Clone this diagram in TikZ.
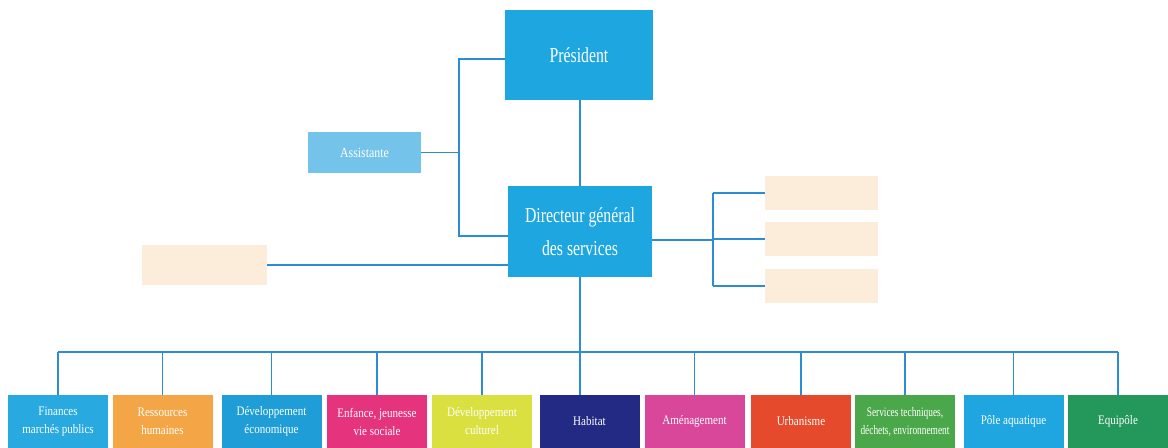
\documentclass[tikz,border=0pt]{standalone}
\usepackage{fontspec}
\setmainfont{Liberation Serif}
\newfontfamily\condA[FakeStretch=0.74]{Liberation Serif}
\newfontfamily\condB[FakeStretch=0.85]{Liberation Serif}
\newfontfamily\condC[FakeStretch=0.72]{Liberation Serif}
\definecolor{linec}{HTML}{2D8DD4}
\definecolor{topblue}{HTML}{1DA6DF}
\definecolor{assist}{HTML}{74C3EA}
\definecolor{fadeor}{HTML}{FCEDDB}
\definecolor{cFin}{HTML}{28A9E0}
\definecolor{cRes}{HTML}{F4A647}
\definecolor{cEco}{HTML}{1E9DD6}
\definecolor{cEnf}{HTML}{E5337D}
\definecolor{cCul}{HTML}{D9E03F}
\definecolor{cHab}{HTML}{232A84}
\definecolor{cAme}{HTML}{D8479A}
\definecolor{cUrb}{HTML}{E54A2C}
\definecolor{cSer}{HTML}{4BA84A}
\definecolor{cPol}{HTML}{1FA6E0}
\definecolor{cEqu}{HTML}{23985A}
\tikzset{
  conn/.style={draw=linec, line width=1.05pt},
  topbox/.style={fill=topblue, text=white, inner sep=0pt, align=center,
    font=\condA\fontsize{16}{24.75}\selectfont},
  assistbox/.style={fill=assist, text=white, inner sep=0pt, align=center,
    font=\condB\fontsize{10.5}{12}\selectfont},
  faded/.style={fill=fadeor, inner sep=0pt},
  unit/.style={text=white, inner sep=0pt, align=center, minimum width=75pt,
    minimum height=39.75pt, font=\condB\fontsize{9.75}{13.5}\selectfont},
}
\begin{document}
\begin{tikzpicture}[x=0.75pt, y=-0.75pt]
\useasboundingbox (0,0) rectangle (1168,448);
\fill[white] (0,0) rectangle (1168,448);

% top boxes
\node[topbox, minimum width=111pt, minimum height=67.5pt] (P) at (579,55) {Président};
\node[topbox, minimum width=108pt, minimum height=68.25pt] (DG) at (580,231.5) {Directeur général\\des services};
\node[assistbox, minimum width=84.75pt, minimum height=30.75pt] (A) at (364.5,152.5) {Assistante};

% faded boxes
\node[faded, minimum width=93.75pt, minimum height=30pt] (L) at (204.5,265) {};
\node[faded, minimum width=84.75pt, minimum height=26pt] (R1) at (821.5,193) {};
\node[faded, minimum width=84.75pt, minimum height=26pt] (R2) at (821.5,239) {};
\node[faded, minimum width=84.75pt, minimum height=26pt] (R3) at (821.5,286) {};

% bottom units
\node[unit, fill=cFin] (U1) at (58,421.5) {Finances\\marchés publics};
\node[unit, fill=cRes] (U2) at (162.5,421.5) {Ressources\\humaines};
\node[unit, fill=cEco] (U3) at (271.5,421.5) {Développement\\économique};
\node[unit, fill=cEnf] (U4) at (377,421.5) {Enfance, jeunesse\\vie sociale};
\node[unit, fill=cCul] (U5) at (482,421.5) {Développement\\culturel};
\node[unit, fill=cHab] (U6) at (589.5,421.5) {Habitat};
\node[unit, fill=cAme] (U7) at (694.5,421.5) {Aménagement};
\node[unit, fill=cUrb] (U8) at (801,421.5) {Urbanisme};
\node[unit, fill=cSer, font=\condC\fontsize{9.75}{13.5}\selectfont] (U9) at (905,421.5) {Services techniques,\\déchets, environnement};
\node[unit, fill=cPol] (U10) at (1013.5,421.5) {Pôle aquatique};
\node[unit, fill=cEqu] (U11) at (1118,421.5) {Equipôle};

% coordinates
\coordinate (bTop) at (459,59);
\coordinate (bBot) at (459,236);
\coordinate (rV) at (713,240);
\coordinate (bus) at (580,352);

% bracket President / Assistante / DG
\draw[conn] (P.west |- bTop) -- (bTop) -- (bBot) -- (DG.west |- bBot);
\draw[conn] (A.east) -- (A.east -| bTop);
% President to DG
\draw[conn] (P.south -| DG.north) -- (DG.north);
% left faded
\draw[conn] (L.east) -- (L.east -| DG.west);
% right bracket
\draw[conn] (DG.east |- rV) -- (rV);
\draw[conn] (R1.west -| rV) -- (R3.west -| rV);
\draw[conn] (R1.west -| rV) -- (R1.west);
\draw[conn] (R2.west -| rV) -- (R2.west);
\draw[conn] (R3.west -| rV) -- (R3.west);
% bus
\draw[conn] (DG.south) -- (bus);
\draw[conn] (U1.north |- bus) -- (U11.north |- bus);
\foreach \u in {U1,U2,U3,U4,U5,U7,U8,U9,U10,U11}{
  \draw[conn] (\u.north |- bus) -- (\u.north);
}
\draw[conn] (bus) -- (bus |- U6.north);
\end{tikzpicture}
\end{document}
